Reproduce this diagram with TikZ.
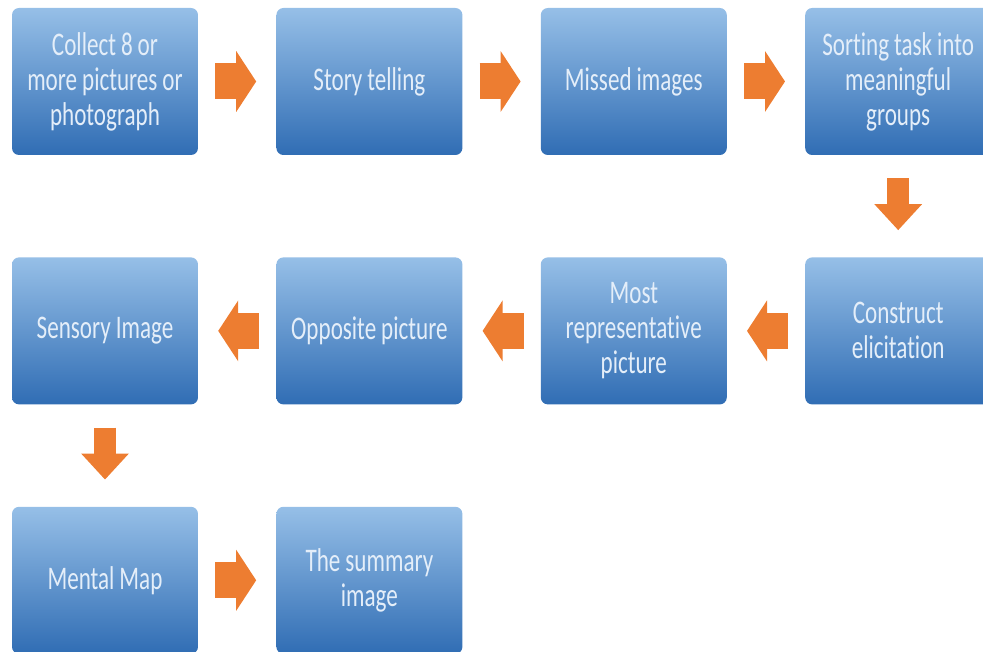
\documentclass[tikz,border=0pt]{standalone}
\usepackage{fontspec}
\setmainfont{Carlito}[FakeStretch=0.7, Ligatures={NoCommon}]
\usetikzlibrary{positioning}
\usetikzlibrary{arrows.meta}
\definecolor{boxtopc}{HTML}{96BFE7}
\definecolor{boxbottomc}{HTML}{306DB4}
\definecolor{arrowc}{HTML}{ED7D31}
\definecolor{textc}{HTML}{E4EEF9}
\tikzstyle{stepbox} = [
    rectangle,
    rounded corners=7pt,
    top color=boxtopc,
    bottom color=boxbottomc,
    text=textc,
    minimum width=186pt,
    minimum height=147pt,
    text width=176pt,
    align=center,
    font=\fontsize{33}{35}\selectfont,
    execute at begin node={\spaceskip=5pt\relax}
    ]
\tikzstyle{flowh} = [
    draw=arrowc,
    line width=36pt,
    -{Triangle[width=60pt,length=20pt]},
    shorten <=17pt,
    shorten >=20pt
    ]
\tikzstyle{flowv} = [
    draw=arrowc,
    line width=22pt,
    -{Triangle[width=46pt,length=26pt]},
    shorten <=23pt,
    shorten >=27pt
    ]

\begin{document}
\begin{tikzpicture}
\useasboundingbox (0,0) rectangle (983pt,-652pt);
% first row
\node [stepbox] (collect) at (105pt,-81.5pt) {Collect 8 or\\more pictures or\\photograph};
\node [stepbox, right=78pt of collect] (story) {Story telling};
\node [stepbox, right=78pt of story] (missed) {Missed images};
\node [stepbox, right=78pt of missed] (sorting) {Sorting task into\\meaningful\\groups};
% second row
\node [stepbox, below=102pt of sorting] (construct) {Construct\\elicitation};
\node [stepbox, left=78pt of construct] (represent) {Most\\representative\\picture};
\node [stepbox, left=78pt of represent] (opposite) {Opposite picture};
\node [stepbox, left=78pt of opposite] (sensory) {Sensory Image};
% third row
\node [stepbox, below=102pt of sensory] (mental) {Mental Map};
\node [stepbox, right=78pt of mental] (summary) {The summary\\image};

\draw [flowh] (collect) -- (story);
\draw [flowh] (story) -- (missed);
\draw [flowh] (missed) -- (sorting);
\draw [flowv] (sorting) -- (construct);
\draw [flowh] (construct) -- (represent);
\draw [flowh] (represent) -- (opposite);
\draw [flowh] (opposite) -- (sensory);
\draw [flowv] (sensory) -- (mental);
\draw [flowh] (mental) -- (summary);
\end{tikzpicture}
\end{document}
